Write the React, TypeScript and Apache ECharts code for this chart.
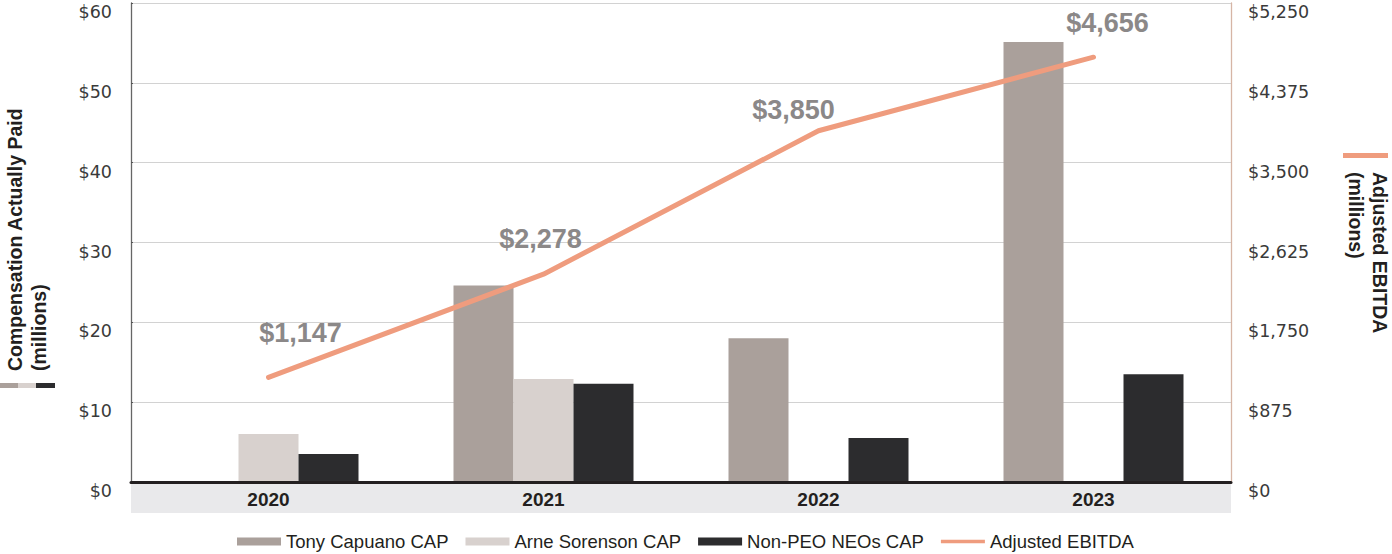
import React, { useEffect, useRef } from "react";
import * as echarts from "echarts";

const years = ["2020", "2021", "2022", "2023"];
const tonyCap = [null, 24.6, 18.0, 55.1];
const arneCap = [6.0, 12.9, null, null];
const nonPeoCap = [3.5, 12.3, 5.5, 13.5];
const ebitda = [1147, 2278, 3850, 4656];
const ebitdaLabels = ["$1,147", "$2,278", "$3,850", "$4,656"];
const labelOffsets = [
  [32, -44],
  [-3, -35],
  [-25, -21],
  [14, -34],
];

const C_TONY = "#aaa09b";
const C_ARNE = "#d8d1ce";
const C_NEO = "#2c2c2e";
const C_LINE = "#ef9c7e";

export default function App() {
  const ref = useRef<HTMLDivElement>(null);
  useEffect(() => {
    if (!ref.current) return;
    const chart = echarts.init(ref.current, undefined, { renderer: "svg" });
    const tickFont = { fontFamily: "DejaVu Sans", fontSize: 17.5, color: "#3a3a3a" };
    chart.setOption({
      animation: false,
      grid: { left: 131, right: 161, top: 3, bottom: 72, containLabel: false },
      graphic: [
        {
          type: "rect",
          z: -10,
          silent: true,
          shape: { x: 131, y: 483, width: 1100, height: 30 },
          style: { fill: "#e9e9eb" },
        },
        {
          type: "text",
          x: 3,
          y: 371,
          rotation: Math.PI / 2,
          style: {
            text: "Compensation Actually Paid\n(millions)",
            fontFamily: "Liberation Sans",
            fontWeight: "bold",
            fontSize: 19.5,
            lineHeight: 24,
            fill: "#231f20",
            align: "left",
            verticalAlign: "top",
          },
        },
        { type: "rect", shape: { x: 0, y: 383, width: 18, height: 5 }, style: { fill: C_TONY } },
        { type: "rect", shape: { x: 18, y: 383, width: 18, height: 5 }, style: { fill: C_ARNE } },
        { type: "rect", shape: { x: 36, y: 383, width: 19, height: 5 }, style: { fill: C_NEO } },
        {
          type: "text",
          x: 1392,
          y: 172,
          rotation: -Math.PI / 2,
          style: {
            text: "Adjusted EBITDA\n(millions)",
            fontFamily: "Liberation Sans",
            fontWeight: "bold",
            fontSize: 19.5,
            lineHeight: 24,
            fill: "#231f20",
            align: "left",
            verticalAlign: "top",
          },
        },
        { type: "rect", shape: { x: 1343, y: 153, width: 45, height: 5 }, style: { fill: C_LINE } },
      ],
      legend: {
        left: 237,
        bottom: 3,
        itemWidth: 44,
        itemHeight: 8,
        itemGap: 17,
        padding: 0,
        textStyle: { fontFamily: "Liberation Sans", fontSize: 18.5, color: "#231f20" },
        data: [
          { name: "Tony Capuano CAP", icon: "rect" },
          { name: "Arne Sorenson CAP", icon: "rect" },
          { name: "Non-PEO NEOs CAP", icon: "rect" },
          { name: "Adjusted EBITDA", icon: "path://M0,0H40V3H0Z" },
        ],
      },
      xAxis: {
        type: "category",
        data: years,
        axisLine: { show: true, lineStyle: { color: "#231f20", width: 3 } },
        axisTick: { show: false },
        axisLabel: {
          margin: 8,
          fontFamily: "Liberation Sans",
          fontWeight: "bold",
          fontSize: 19,
          color: "#231f20",
        },
        z: 5,
      },
      yAxis: [
        {
          type: "value",
          min: 0,
          max: 60,
          interval: 10,
          axisLine: { show: true, lineStyle: { color: "#666", width: 1.3 } },
          axisTick: { show: true, inside: true, length: 2, lineStyle: { color: "#555" } },
          splitLine: { show: true, lineStyle: { color: "#d2d2d2", width: 1 } },
          axisLabel: {
            ...tickFont,
            margin: 19,
            verticalAlign: "top",
            formatter: (v: number) => "$" + v,
          },
        },
        {
          type: "value",
          min: 0,
          max: 5250,
          interval: 875,
          position: "right",
          axisLine: { show: true, lineStyle: { color: "#d6b5a5", width: 1.3 } },
          axisTick: { show: false },
          splitLine: { show: false },
          axisLabel: {
            ...tickFont,
            margin: 17,
            verticalAlign: "top",
            formatter: (v: number) => "$" + v.toLocaleString("en-US"),
          },
        },
      ],
      series: [
        {
          name: "Tony Capuano CAP",
          type: "bar",
          data: tonyCap,
          barWidth: 60,
          barGap: "0%",
          itemStyle: { color: C_TONY },
        },
        {
          name: "Arne Sorenson CAP",
          type: "bar",
          data: arneCap,
          barWidth: 60,
          barGap: "0%",
          itemStyle: { color: C_ARNE },
        },
        {
          name: "Non-PEO NEOs CAP",
          type: "bar",
          data: nonPeoCap,
          barWidth: 60,
          barGap: "0%",
          itemStyle: { color: C_NEO },
        },
        {
          name: "Adjusted EBITDA",
          type: "line",
          yAxisIndex: 1,
          symbol: "circle",
          symbolSize: 2,
          showSymbol: true,
          itemStyle: { color: C_LINE },
          lineStyle: { color: C_LINE, width: 5, cap: "round" },
          z: 4,
          data: ebitda.map((v, i) => ({
            value: v,
            label: {
              show: true,
              position: "inside",
              offset: labelOffsets[i],
              formatter: ebitdaLabels[i],
              fontFamily: "Liberation Sans",
              fontWeight: "bold",
              fontSize: 27,
              color: "#8b8888",
            },
          })),
        },
      ],
    });
    return () => chart.dispose();
  }, []);
  return (
    <div
      ref={ref}
      style={{ position: "absolute", left: 0, top: 0, width: 1392, height: 554 }}
    />
  );
}
